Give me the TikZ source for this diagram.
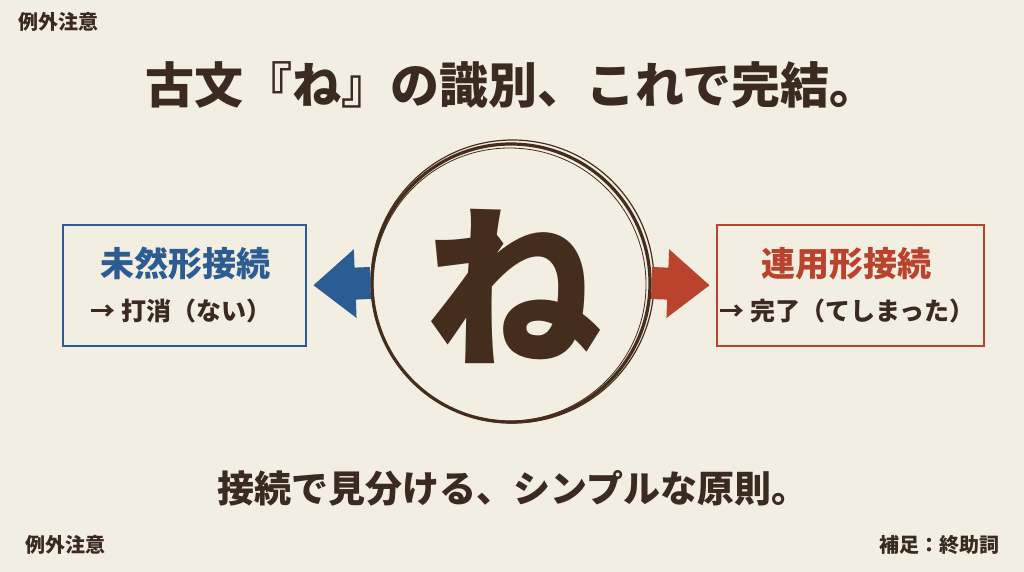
\documentclass[tikz,border=0pt]{standalone}
\usepackage{fontspec}
\setmainfont{Noto Sans CJK JP}
\usetikzlibrary{arrows.meta}
\definecolor{paper}{HTML}{F3EEE2}
\definecolor{ink}{HTML}{3A2A1F}
\definecolor{ring}{HTML}{452D1D}
\definecolor{mzblue}{HTML}{2C5C94}
\definecolor{ryred}{HTML}{B9432C}
\tikzset{
  note/.style={font=\bfseries\fontsize{20}{22}\selectfont, text=ink},
  kbox/.style={draw, line width=2.5pt, minimum width=243pt, minimum height=121pt, fill=paper},
  ktitle/.style={font=\bfseries\fontsize{34}{36}\selectfont},
  kline/.style={font=\bfseries\fontsize{25}{27}\selectfont, text=ink},
  blockarrow/.style={line width=32pt, shorten >=6pt}
}
\begin{document}
\begin{tikzpicture}[x=1pt,y=-1pt]
    \fill[paper] (0,0) rectangle (1024,572);
    \useasboundingbox (0,0) rectangle (1024,572);
    % corner notes
    \node[note, anchor=west] (tl) at (15,22) {例外注意};
    \node[note, anchor=west] (bl) at (22,545) {例外注意};
    \node[note, anchor=east] (br) at (1003,545) {補足：終助詞};
    % title and motto
    \node[font=\bfseries\fontsize{49}{52}\selectfont, text=ink] (title) at (512,85) {古文『ね』の識別、これで完結。};
    \node[font=\bfseries\fontsize{37}{40}\selectfont, text=ink] (motto) at (513,488) {接続で見分ける、シンプルな原則。};
    % centre
    \node[circle, draw=ring, line width=3.2pt, minimum size=278pt, inner sep=0pt] (ne) at (511,283) {};
    \draw[ring, line width=1.2pt] (512.5,281.5) circle[radius=141.5];
    \draw[ring, line width=0.8pt] (509.5,284.5) circle[radius=136.5];
    \node[font=\bfseries\fontsize{176}{180}\selectfont, text=ring] (kana) at (513,286) {ね};
    % boxes
    \node[kbox, draw=mzblue] (mizen) at (184.5,285.5) {};
    \node[ktitle, text=mzblue] (mizent) at (185,264) {未然形接続};
    \node[kline] (mizenl) at (181,311) {→ 打消（ない）};
    \node[kbox, draw=ryred, minimum width=267pt] (renyo) at (850.5,285.5) {};
    \node[ktitle, text=ryred] (renyot) at (846,264) {連用形接続};
    \node[kline] (renyol) at (847,311) {→ 完了（てしまった）};
    % arrows
    \draw[blockarrow, mzblue, -{Triangle[length=42pt,width=66pt]}] (ne.west) -- (mizen.east);
    \draw[blockarrow, ryred, -{Triangle[length=42pt,width=66pt]}] (ne.east) -- (renyo.west);
\end{tikzpicture}
\end{document}
